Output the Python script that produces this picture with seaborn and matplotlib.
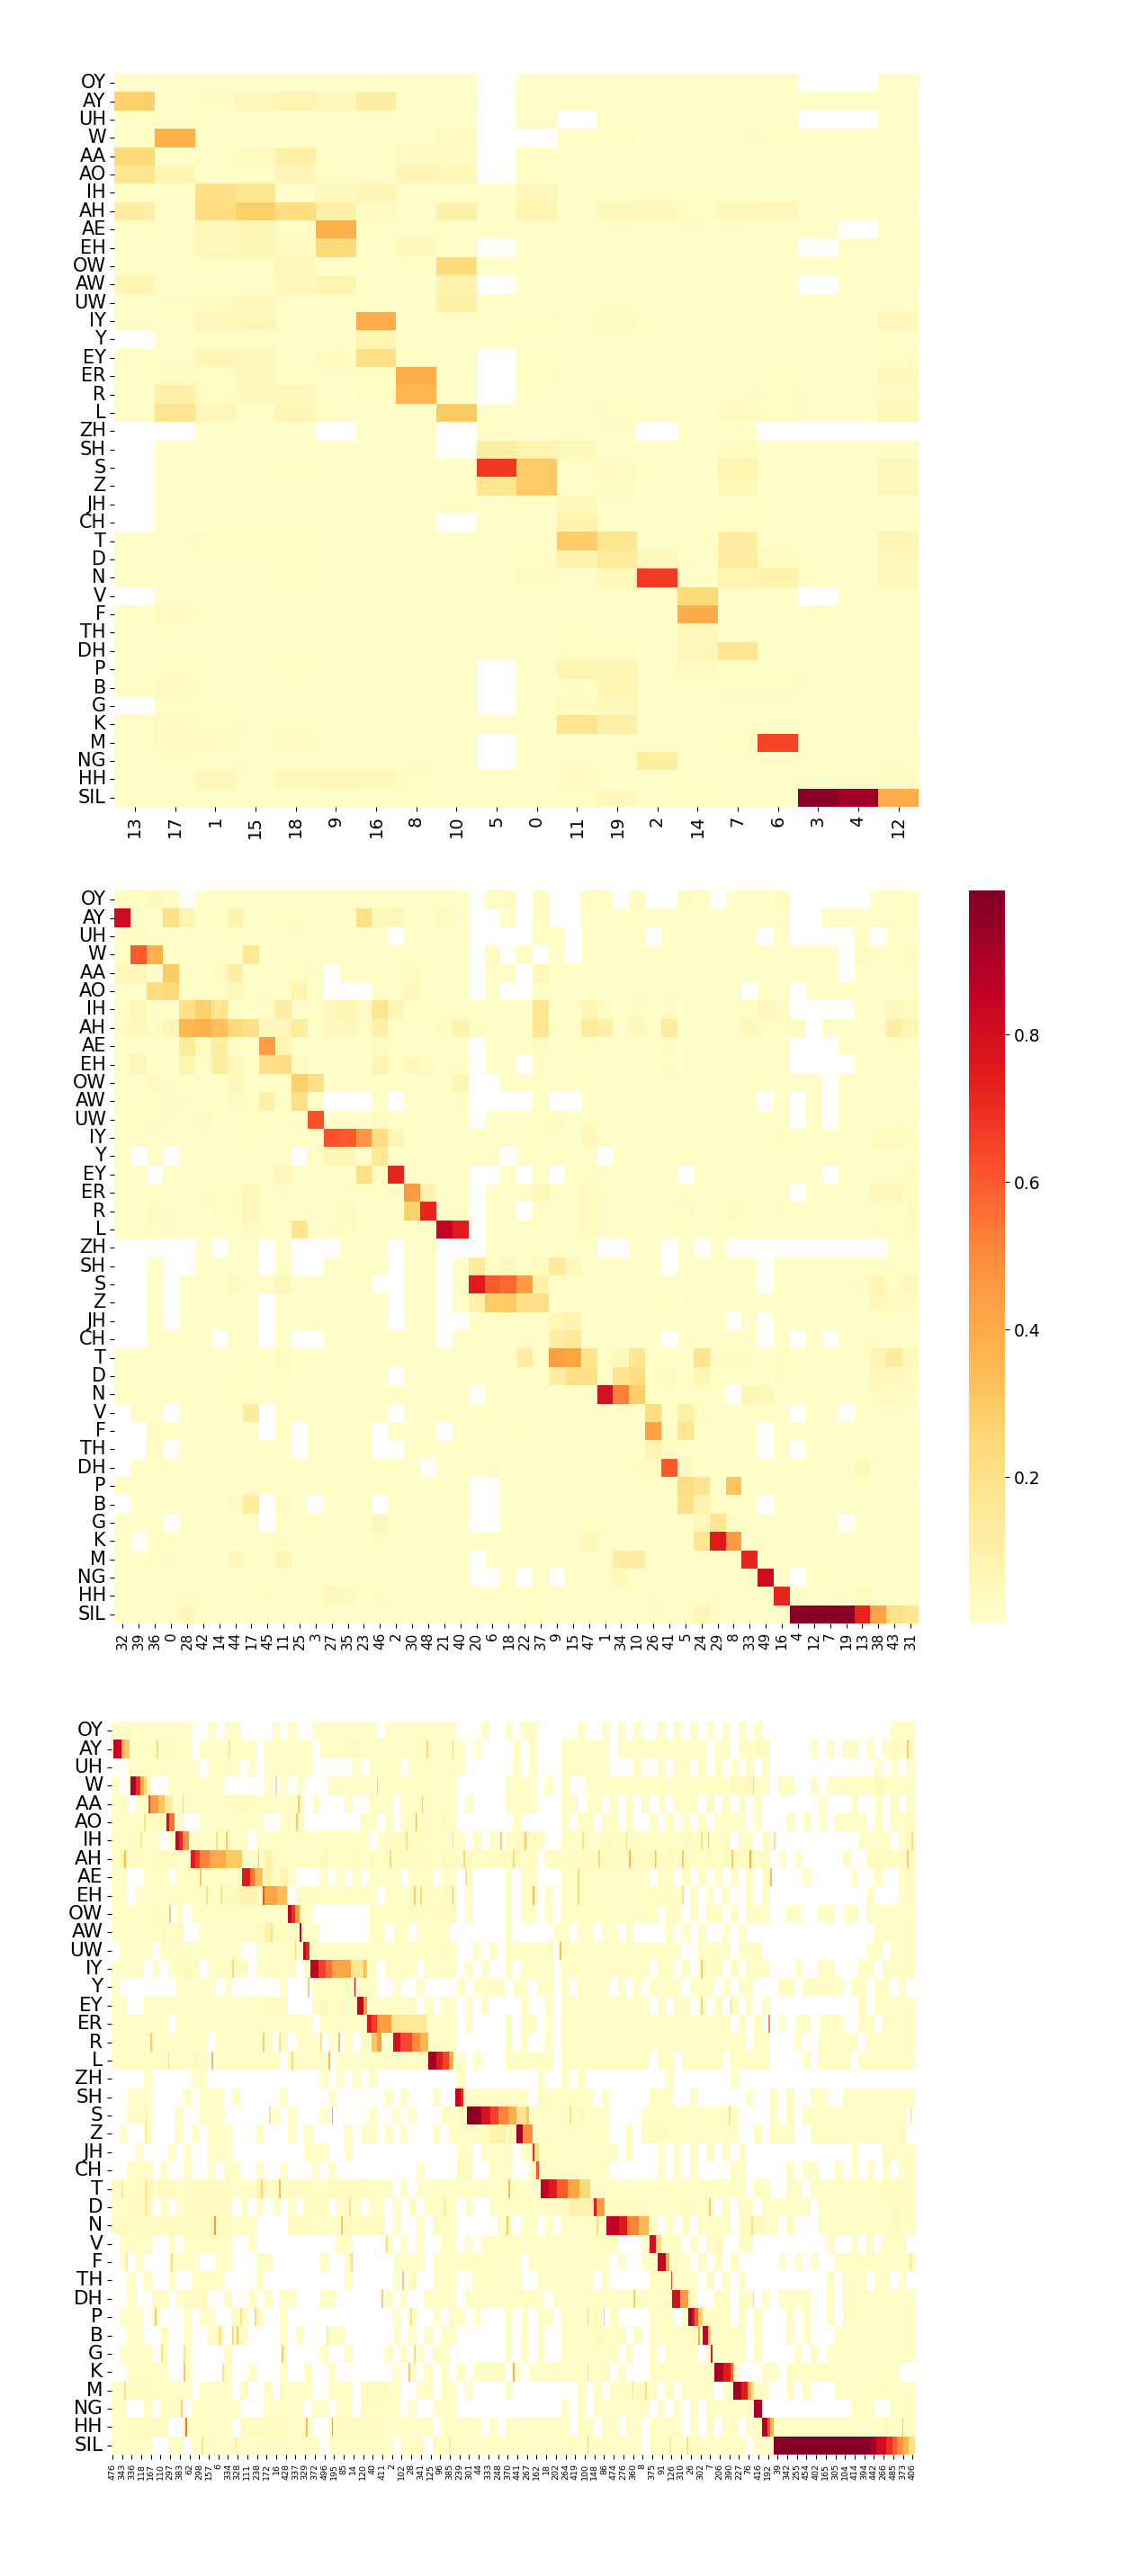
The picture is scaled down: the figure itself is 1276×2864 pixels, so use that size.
import numpy as np
import pandas as pd
import matplotlib
matplotlib.use("Agg")
import matplotlib.pyplot as plt
import seaborn as sns

phones = ["OY", "AY", "UH", "W", "AA", "AO", "IH", "AH", "AE", "EH", "OW", "AW", "UW", "IY", "Y", "EY", "ER", "R", "L", "ZH",
          "SH", "S", "Z", "JH", "CH", "T", "D", "N", "V", "F", "TH", "DH", "P", "B", "G", "K", "M", "NG", "HH", "SIL"]

# top panel, values in percent, . is an empty cell
top_cols = [13, 17, 1, 15, 18, 9, 16, 8, 10, 5, 0, 11, 19, 2, 14, 7, 6, 3, 4, 12]
top_rows = [
    "1 1 1 1 1 1 1 1 1 . 1 1 1 1 1 1 1 . . 1",
    "28 2 3 6 8 6 12 2 2 . 2 2 1 1 1 1 1 2 2 2",
    "1 2 1 1 1 1 1 1 1 . 2 . 1 1 1 1 1 . . 2",
    "2 38 1 1 1 1 1 2 4 . . 2 3 1 1 1 3 2 2 2",
    "24 2 2 4 10 2 1 4 3 . 2 1 1 1 1 1 1 1 1 1",
    "18 8 1 2 7 2 1 7 6 . 2 1 1 1 1 1 1 1 1 1",
    "1 2 20 17 1 5 7 2 2 1 6 1 2 3 2 2 2 1 1 1",
    "12 2 22 28 22 11 4 2 10 1 8 1 5 6 3 5 6 1 1 2",
    "2 1 5 7 2 38 2 1 2 1 1 1 1 1 1 1 1 1 . 1",
    "1 1 6 7 4 24 2 5 2 . 1 1 1 2 1 1 2 . 2 1",
    "2 1 2 2 6 1 1 1 23 2 2 1 2 1 1 1 2 1 1 1",
    "7 1 2 2 5 8 1 1 9 . 1 1 1 1 1 1 1 . 1 1",
    "2 3 4 5 2 1 1 1 11 2 1 1 2 1 1 1 1 1 1 2",
    "2 1 6 7 2 1 40 1 1 1 3 1 4 2 1 1 2 1 1 6",
    ". 1 2 2 2 1 8 1 1 1 1 1 1 1 1 1 1 1 1 1",
    "2 1 7 5 1 4 20 1 1 . 2 1 1 1 1 1 2 1 1 3",
    "2 3 2 5 2 1 2 40 1 . 3 1 1 1 1 1 2 1 1 5",
    "2 10 3 5 6 1 3 36 1 . 1 1 1 1 1 1 3 1 1 4",
    "2 18 6 2 7 2 1 1 30 1 1 1 3 2 1 4 3 1 1 5",
    ". . 1 1 1 . 1 1 . 1 1 1 1 . 1 1 . . . .",
    ". 1 1 1 2 1 2 1 . 12 8 5 1 1 1 4 1 1 1 2",
    ". 1 1 1 3 1 1 1 1 68 30 2 4 1 1 8 1 1 1 6",
    ". 1 1 1 1 1 1 1 1 17 30 2 3 1 1 5 1 1 1 6",
    ". 1 1 1 1 1 1 1 1 1 1 5 1 1 1 2 1 1 1 1",
    ". 1 1 1 1 1 1 1 . 1 1 9 1 1 1 2 1 1 1 1",
    "2 2 3 3 3 2 1 1 1 2 2 29 17 1 2 12 2 1 1 7",
    "2 2 2 2 2 2 1 1 1 1 3 9 14 6 1 13 4 1 1 6",
    "2 2 1 2 3 1 1 1 1 1 4 2 5 67 1 8 9 1 1 6",
    ". 2 1 1 1 1 1 1 1 1 1 1 2 1 24 1 1 . 1 1",
    "1 4 1 1 1 1 1 1 1 1 1 1 1 1 40 1 1 1 1 1",
    "1 1 1 1 1 1 1 1 1 2 2 2 1 1 5 1 1 1 1 1",
    "1 1 2 2 1 1 1 1 1 1 1 3 3 1 6 17 1 1 2 1",
    "2 3 2 2 3 2 1 1 1 . 1 8 7 1 4 1 1 1 1 1",
    "2 4 2 2 2 1 1 1 1 . 1 2 8 1 2 3 3 1 1 1",
    ". 2 2 2 1 1 1 1 1 . 2 4 5 1 1 1 1 1 1 1",
    "2 4 3 2 3 1 1 1 1 1 1 18 11 1 1 1 1 1 1 2",
    "2 4 4 2 4 1 1 1 1 . 1 1 1 2 1 3 65 1 1 1",
    "2 2 1 1 1 1 1 1 1 . 1 1 1 13 1 1 1 1 1 1",
    "2 2 6 1 5 6 5 3 1 1 1 4 1 1 1 2 1 1 1 3",
    "1 1 2 2 2 2 2 2 2 2 2 3 5 2 3 1 1 97 93 40",
]

# middle panel
mid_cols = [32, 39, 36, 0, 28, 42, 14, 44, 17, 45, 11, 25, 3, 27, 35, 23, 46, 2, 30, 48, 21, 40, 20, 6, 18,
            22, 37, 9, 15, 47, 1, 34, 10, 26, 41, 5, 24, 29, 8, 33, 49, 16, 4, 12, 7, 19, 13, 38, 43, 31]
mid_rows = [
    "3 3 5 3 . 1 1 1 1 1 1 1 1 1 1 2 1 1 1 1 1 1 . 3 3 . 3 . . 3 3 . 3 . . 3 3 . 1 1 1 3 . . . . . 2 2 2",
    "82 2 1 20 8 2 2 9 1 2 3 3 1 1 1 20 5 6 1 1 4 1 . . 1 . 3 . . 2 1 1 1 1 1 1 1 1 1 1 1 2 . . 2 2 2 2 3 2",
    "1 3 1 1 1 1 2 1 1 1 1 1 1 1 1 1 1 . 1 1 1 1 . . . . 2 2 . 1 1 1 1 . 1 1 1 1 1 1 . 1 . . . . 2 . 1 1",
    "1 60 38 1 1 1 1 1 16 1 1 1 2 1 1 1 1 1 1 1 1 1 . 3 . 3 . 1 . 1 1 2 1 1 1 1 1 1 1 1 1 1 1 1 1 . 4 1 1 3",
    "6 6 1 30 1 1 4 12 1 1 2 3 1 . 1 1 1 1 4 2 1 1 . 2 2 . 6 1 1 1 1 1 1 1 1 1 1 1 1 1 1 1 1 1 1 . 1 1 1 2",
    "1 1 22 24 1 1 1 6 1 1 1 8 1 . . . 1 1 5 1 1 1 . 1 . . 2 1 1 1 1 1 1 1 1 1 1 1 1 . 2 1 . 1 1 1 1 1 1 2",
    "2 6 1 1 20 28 18 2 1 3 12 2 1 6 8 4 18 7 2 3 2 2 1 1 1 1 18 1 2 7 3 1 3 2 3 1 1 1 1 3 6 3 . . . . 2 1 6 4",
    "3 5 3 7 36 38 33 24 20 5 5 14 1 5 6 2 10 2 2 2 4 9 3 1 1 1 17 2 2 14 11 1 5 2 14 1 2 1 2 5 3 3 4 . 1 1 1 2 12 8",
    "1 1 1 1 14 4 12 2 1 45 7 1 1 1 1 1 4 2 1 1 1 1 . 1 1 1 4 1 1 2 1 1 1 1 3 1 1 1 1 1 1 1 . . . 1 1 1 2 2",
    "1 6 1 1 8 2 13 5 1 20 22 4 1 1 1 1 8 2 5 4 1 1 . 1 1 . 3 1 1 1 1 1 1 1 3 1 1 1 1 1 1 1 . . . . 1 1 1 1",
    "1 2 4 1 1 1 1 6 1 1 1 28 20 1 1 1 1 1 1 1 1 7 . . 1 1 1 1 1 1 1 1 1 1 1 1 1 1 1 1 1 2 1 1 . 1 1 1 1 2",
    "1 1 1 3 1 1 1 4 2 10 2 20 1 . . . 1 . 1 1 1 3 . . . . 2 . . 1 1 1 1 1 1 1 1 1 1 1 . 1 . 1 . 1 1 1 1 1",
    "1 3 3 1 1 4 1 1 3 1 1 1 62 1 1 1 4 2 1 1 1 1 . 1 1 1 3 3 1 3 1 1 1 1 1 1 1 1 1 1 1 1 . 1 . 1 1 1 1 1",
    "1 1 1 1 1 1 1 1 3 1 1 1 1 62 60 47 22 7 1 1 1 1 1 1 1 1 3 1 1 6 1 1 1 1 1 2 2 1 1 1 1 3 1 1 1 1 1 4 4 3",
    "1 . 1 . 1 1 1 1 1 1 1 . 2 7 7 2 16 1 1 1 1 1 1 1 . 1 1 1 1 1 . 1 1 1 1 1 1 1 1 1 1 1 1 1 1 1 1 1 1 1",
    "1 1 . 1 1 1 1 1 1 2 6 1 1 2 1 20 3 72 1 1 1 1 . . 1 . 2 . 1 3 1 1 1 1 1 . 1 1 1 1 1 1 1 1 . 1 1 2 2 3",
    "1 1 1 1 1 3 3 2 5 1 1 1 1 1 1 1 1 1 45 9 1 1 . 1 1 1 6 2 1 4 2 1 1 1 1 1 1 1 1 1 1 1 . 1 1 1 1 5 5 3",
    "1 1 4 1 1 1 3 2 6 1 1 1 1 2 4 1 1 2 28 72 1 1 . 1 1 . 3 1 1 4 1 1 1 1 1 3 1 1 4 1 1 3 1 1 1 1 1 2 3 3",
    "1 1 3 1 1 1 1 2 4 1 1 18 1 1 3 1 1 1 1 1 85 75 . 1 1 1 3 1 1 4 1 1 1 1 1 1 1 1 1 1 1 1 1 1 1 1 1 3 3 3",
    ". . . . . 1 . 1 1 . 1 . . . 1 1 1 . 1 1 . . . 1 1 1 1 1 1 1 . . 1 1 . 1 . 1 . . . . . . . . . . 1 1",
    ". . 1 . . 1 1 1 1 . 1 . . 1 1 1 1 . 1 1 . 1 14 2 5 2 4 14 5 1 1 1 1 1 . 1 1 1 1 1 . 1 1 1 1 1 1 1 1 1",
    ". . 1 . 1 1 1 4 2 2 6 1 1 1 1 1 . . 1 1 . 1 75 60 57 45 10 1 1 1 1 1 1 1 1 1 1 1 1 1 . 1 1 1 1 1 3 7 2 6",
    ". . 1 . 1 1 1 1 1 . 1 1 1 1 1 1 1 . 1 1 . 1 10 30 30 20 20 1 1 1 1 1 2 1 3 1 1 1 1 1 1 1 1 1 1 1 1 5 4 3",
    ". . 1 . 1 1 1 1 1 . 1 1 1 1 1 1 1 . 1 1 . . 1 1 1 1 1 6 8 1 1 1 1 1 1 1 1 1 . 1 . 1 1 1 1 1 1 1 1 1",
    ". . 1 1 1 1 . 1 1 . 1 . . 1 1 1 1 1 1 1 . 1 1 1 1 3 1 12 16 1 1 1 1 1 . 1 1 1 1 1 . 1 . 1 . 1 1 1 1 1",
    "1 1 1 1 1 1 1 2 2 1 4 1 1 1 1 1 1 1 1 1 1 2 2 2 2 12 1 45 42 18 2 5 17 1 1 1 18 1 4 1 1 3 1 1 1 1 2 7 14 5",
    "1 1 1 1 1 1 1 2 3 1 3 1 1 1 1 1 1 . 1 1 1 1 1 1 1 2 2 12 20 20 2 18 22 1 4 1 8 1 1 1 1 3 1 1 1 1 1 6 6 3",
    "1 1 1 1 1 1 2 3 1 1 1 1 1 1 1 1 1 1 1 1 1 1 . 1 1 1 1 1 1 1 80 52 28 2 2 1 1 1 . 7 5 1 1 1 1 1 1 4 4 3",
    ". 2 1 . 1 1 1 1 14 . 1 1 1 1 1 1 1 . 1 1 1 1 1 1 1 1 1 1 1 1 1 1 1 22 1 11 3 1 1 1 1 1 . 1 1 . 1 1 1 1",
    ". . 3 1 1 1 1 1 1 . 2 . 1 1 1 1 . 1 1 1 . 1 1 1 1 3 1 1 1 1 1 1 1 43 1 17 1 1 1 1 . 1 1 1 1 1 1 1 1 1",
    ". . 2 . 1 1 1 1 1 1 1 . 1 1 1 1 . . 1 1 1 1 1 1 1 1 1 1 1 1 1 1 1 8 4 1 1 1 1 1 . 1 . 1 1 1 1 1 1 1",
    ". 1 1 1 1 1 1 1 1 1 1 1 1 1 1 1 1 1 1 . 1 1 1 3 1 2 1 1 2 2 1 1 3 4 60 3 1 1 1 1 1 1 1 1 1 1 6 1 1 1",
    "2 2 1 1 1 1 1 1 1 1 2 1 1 1 1 1 1 1 1 1 1 1 . . 1 1 1 1 1 1 1 1 1 1 1 22 18 1 32 1 1 1 1 1 1 1 1 1 1 2",
    ". 1 1 1 1 1 1 3 13 . 3 1 . 1 2 1 . 1 1 1 1 1 . . 1 1 1 1 1 1 1 1 1 1 1 20 8 1 1 1 . 1 1 1 1 1 1 1 1 1",
    "1 1 1 . 1 1 1 1 2 . 1 1 1 1 1 1 6 1 1 1 1 1 . . 1 1 1 1 1 2 1 1 1 1 1 1 5 17 3 1 2 1 1 1 1 . 1 1 1 1",
    "1 . 1 1 1 1 1 1 1 1 1 1 1 1 1 1 3 1 1 1 1 1 1 1 2 2 1 1 1 5 1 1 1 1 1 1 17 75 45 1 1 1 1 1 1 1 1 1 1 1",
    "1 1 3 1 1 1 1 5 1 1 7 1 1 1 1 1 1 1 1 1 1 1 . 1 1 1 1 1 1 1 2 12 12 1 1 1 1 1 1 72 1 1 1 1 1 1 1 1 1 1",
    "1 1 1 1 1 1 1 1 1 1 1 1 1 1 1 2 2 1 1 1 1 1 . . 1 . 1 . 1 1 1 5 1 1 1 1 1 1 1 1 82 1 . 1 1 1 1 1 1 1",
    "1 1 1 1 1 1 1 1 1 3 1 1 1 5 4 1 3 1 1 1 1 1 1 1 1 1 1 2 1 1 1 1 1 1 1 1 1 1 1 1 1 72 1 1 1 1 4 1 1 1",
    "1 1 1 1 6 1 1 1 1 1 1 1 1 1 1 1 1 1 1 1 1 1 1 1 1 2 2 1 1 1 1 1 1 3 1 1 7 1 1 1 1 1 97 98 98 97 72 42 20 16",
]

# bottom panel, 500 columns; only every sixth label can be read
bot_ticks = [476, 343, 336, 118, 167, 110, 297, 383, 62, 298, 157, 6, 334, 328, 111, 238, 172, 16, 428, 337,
             329, 372, 496, 195, 85, 14, 120, 40, 411, 2, 102, 28, 341, 125, 96, 385, 239, 301, 44, 333,
             248, 370, 441, 267, 162, 18, 202, 264, 419, 100, 148, 86, 474, 276, 360, 8, 375, 91, 126, 310,
             26, 302, 7, 206, 390, 227, 76, 416, 192, 39, 342, 255, 454, 402, 165, 305, 104, 414, 394, 442,
             266, 485, 373, 406]

# faint background of the bottom panel, one letter per 5 columns
bot_levels = {".": np.nan, "0": 0.006, "1": 0.02, "2": 0.04, "3": 0.09}
bot_left = [
    "0101010100..1.00....0.0..00000000.", "0001112211.1111111.111111.11122111", "..001010100.1110.0.010101.....0.11",
    "0.000..1101010.....0.0.0...01010102", "12.000001111111221111111.0...0..11", "101012200..01111010..111.......11",
    "111110.0.00112201.11111111111111.0", "1312122210000000011321111121112121", "11..111.111111110003230...0.0.1.01",
    "11.0111111111122330000.1111111111", "1111121.0.011111101010001.......11", "111101212..111111123221010......11",
    ".1111.1111111111..0111100111111111", "1001.0.0221.11112.01111.0.0000000", "0.......01010.0......0...11111000..",
    "11..101011111111111222...121211100", "1101111.11111111011111110.1010100", "101011101011.1111111.1.010.0.1.100",
    "111111111120.11111111.10101.100011", "....0.....00..............0.0.0.0.", "..010....0.111.0.....0.....0......",
    "..111...1..111......1.1...1.....1.", ".1..1...1.1.111...1...1.1....1.11.", "...0...0.0..111.........111..0....",
    "..111.0..0..0.11..0..0...1.1......", "2112212212222221113111222112222211", "10222.1.0222222.0.1.1.0.222.111.01",
    "221222222222222111....222110121222", ".1111..1.111111..1..........11....", ".1.1...1110..11...11......1..2....",
    "..1.1..1..1111....1..........1....", "..1..11.1222..1..1.1.11...11......", ".111.1...1.11..11.1..1............",
    "..11..1..1..11.11....1.1...11.....", ".1111.1..1....1......1....1..1....", "..11111..1....1..1...1..1..1......",
    "1122211111.1111.2..1.1111..111.222", "10..1.111.111111...10101.11.11.111", "1122222..111111.222222111..2222222",
    "11111..11.1111111101011111.1111111",
]
bot_mid = [
    "010111010...0..0.11.....0..0.0.0.", "1111211120.0....1.1...111110.1111", "11.1111110......1.0...111111...1.",
    "101011111......0110.0.1..01111111", "0.0112111.0....0101...11.01.1.1.1", "1.0112121.......1.....0.11.11.1..",
    "2221211110.1.1.12221..11111211121", "2222121221211122212.1212222222222", "01.111.01.0....0.10...11111011111",
    "111112122.0....0.12.0.11111111111", "111211222.0....0.10.0.11111111011", ".01.1101.......0.....00.00.00.0.",
    "111111121..0.0.111111.21111111111", "1010.1011.0.0..1.1111.11111111111", ".0..1....0.0000.01.01.0.0110.0.0.",
    "0101.1.01.0.0....1..0.11111110111", "000000111.0....1.11.0.11111111111", "000000011......0.1..0.11111111111",
    "1111110000.0...111111.11111111111", ".........1.........1..0.0........", "0.0...0..001111110.2111111.0.....",
    ".0.0...001100000000111112110....0", "0.0...1.10112332230011111111..0.1", ".........11.0010.111111111111.1.",
    "....0....22..100..1011111111.....", "1.1.10111111111110000000000000000", ".0.1.1111.1..11111111223330022222",
    ".0..1.111.....10.00.0.01111100000", "1.0.0..11.0.11111011111111111...0", ".0101.01111111111.1111111111.0..0.",
    ".0.2..011..111111..0101111.1.....", "1.0..1110.1111111110.111111111111", ".0.1..0.10.0...0.0.11.01012.1....",
    ".1.0.1.01......0.0.1..11112101.0.", "1.1.1.11.......0.1.1..1111111.0..", ".0.1.1.0.1.1111.1.1111111112.0....",
    "11..11.11.0....1........1.1.1122222", "11.0..011.............0.0.1111111", "011101.01010.0.10110111.11.11.01.",
    "1.111.21111011111111111211111111",
]
bot_right = [
    ".1.1.1.0.0.1.1................111", "0110111.01.1122.....0.0.11.0.1212", ".1.11.1.1.0.1.1.............0.0.0",
    "110111111122211.11..1.11111121111", ".0.011.1.1.1.0.......0...0..0.1.0", "0.1.0.1.0110.0...0.0.0.1111.0.111",
    "0111211112.11.2...........0101.12", "212121121222212.0.0.....1..2222223", ".11.1.1.0.1.1.2....0.....0..1..11",
    "1121.1.0.1..1.1............0...01", "1.11.0.11.1.111..10..10.01.111111", "..1.0.0..0.0................11011",
    "1111..1111.111.............01.111", ".11.1.112.1.111...0..10...11.1111", "1010.011.0.11...11.11111.11.10.0.",
    ".1.11.0.1.1.1.1...........1.11111", "1111010111.1.2..0.00.011..11.1111", "011101111111.11...0..11111.111111",
    ".11.11111.11111....0.1111.1111111", "..0.......0......................", "111..0......0..0.1..11..111111111",
    "11111011111....0.1.1111111111111", "22111011011..1.111..111111111112", ".0.0.1.1.1.1.............0...1111",
    ".0.1.1....11.....0.11..1.1.0.1.11", "111111111111.11..11.1111111112221", "11112111.1.11.101101.111111111211",
    "0.1.1.1111.22210.1...011111111211", "0111.1.12..11.........1..1.1.111", "00011.1.1.1.....0.0.0..1111111112",
    "110111.1.1.1..........1.111.11.0", "111000..11.11.1.0101..1.111111111", "011.000111.1.1...0.0..1.111111111",
    "111112000111.0...0.0...1111111111", "1.1111.00111.1....0.1.11111111111", "01111110000...11.11111111111111",
    "1.1.1110.000011..1.1...1111111111", ".0.1.0.1111100...........111..111", "1111.1.1.11.100111111111111112121",
    "111111111111.11000000000000000000",
]

# strong runs in the bottom panel: row, first col, end col, value
bot_bands = [
    (1, 1, 6, .85), (1, 6, 8, .4), (1, 8, 11, .3),
    (3, 12, 15, .9), (3, 15, 18, .7), (3, 18, 20, .4), (3, 20, 22, .25),
    (4, 23, 24, .65), (4, 24, 29, .45), (4, 29, 33, .32), (4, 33, 38, .14),
    (5, 34, 36, .82), (5, 36, 39, .55),
    (6, 40, 42, .85), (6, 42, 44, .72), (6, 44, 48, .47),
    (7, 49, 52, .75), (7, 52, 55, .66), (7, 55, 61, .52), (7, 61, 71, .4), (7, 71, 81, .3),
    (8, 81, 86, .75), (8, 86, 89, .55), (8, 89, 94, .34),
    (9, 94, 95, .62), (9, 95, 103, .42), (9, 103, 109, .34),
    (10, 110, 112, .85), (10, 112, 114, .7), (10, 114, 117, .45),
    (11, 117, 118, .85),
    (12, 119, 121, .85), (12, 121, 123, .72),
    (13, 124, 129, .86), (13, 129, 133, .66), (13, 133, 137, .55), (13, 137, 149, .42), (13, 149, 157, .17), (13, 157, 158, .35),
    (14, 151, 152, .85),
    (15, 153, 157, .85), (15, 157, 159, .45),
    (16, 159, 162, .78), (16, 162, 165, .66), (16, 165, 174, .45), (16, 174, 196, .16),
    (17, 162, 165, .32), (17, 165, 168, .45), (17, 175, 180, .8), (17, 180, 187, .64), (17, 187, 192, .5), (17, 192, 197, .36),
    (18, 197, 202, .92), (18, 202, 206, .75), (18, 206, 210, .65), (18, 210, 213, .38),
    (20, 214, 217, .85), (20, 217, 219, .72),
    (21, 221, 230, .96), (21, 230, 236, .78), (21, 236, 241, .66), (21, 241, 247, .52), (21, 247, 252, .4), (21, 252, 258, .18), (21, 258, 260, .32),
    (22, 252, 256, .92), (22, 256, 262, .5),
    (23, 262, 263, .7), (23, 263, 266, .2),
    (24, 264, 266, .62),
    (25, 267, 272, .85), (25, 272, 277, .75), (25, 277, 284, .6), (25, 284, 291, .42), (25, 291, 298, .24),
    (26, 300, 302, .75), (26, 302, 307, .45),
    (27, 308, 316, .86), (27, 316, 321, .76), (27, 321, 328, .52), (27, 328, 334, .36),
    (28, 335, 339, .8), (28, 339, 342, .2),
    (29, 340, 345, .85), (29, 345, 347, .4),
    (30, 348, 349, .62),
    (31, 349, 354, .8), (31, 354, 359, .45),
    (32, 359, 361, .92), (32, 361, 363, .8), (32, 363, 365, .6), (32, 365, 368, .28),
    (33, 365, 366, .4), (33, 368, 371, .85), (33, 371, 373, .3),
    (34, 373, 374, .75),
    (35, 375, 381, .9), (35, 381, 385, .75), (35, 385, 387, .58),
    (36, 387, 392, .92), (36, 392, 396, .75), (36, 396, 398, .38), (36, 398, 400, .2),
    (37, 400, 405, .9),
    (38, 405, 408, .88), (38, 408, 410, .62), (38, 410, 412, .38),
    (39, 412, 472, .98), (39, 472, 476, .92), (39, 476, 482, .82), (39, 482, 486, .7), (39, 486, 489, .6),
    (39, 489, 493, .48), (39, 493, 496, .36), (39, 496, 500, .2),
]

# single dark stripes in the bottom panel: row, col, value
bot_stripes = [
    (1, 28, .25), (1, 73, .15), (1, 196, .25), (1, 212, .25), (1, 495, .3), (3, 102, .2), (3, 165, .25), (3, 399, .25),
    (4, 44, .25), (4, 116, .3), (4, 193, .3), (5, 20, .2), (5, 115, .3), (5, 189, .35), (6, 18, .15), (6, 65, .2), (6, 71, .3),
    (6, 183, .2), (6, 212, .2), (6, 242, .3), (6, 257, .3), (6, 293, .2), (6, 320, .2), (6, 367, .2), (6, 371, .3), (6, 412, .2), (6, 498, .2),
    (7, 8, .35), (7, 91, .3), (7, 173, .25), (7, 219, .25), (7, 250, .25), (7, 303, .25), (7, 322, .35), (7, 338, .35),
    (7, 355, .3), (7, 386, .3), (7, 397, .4), (7, 495, .3), (8, 55, .3), (8, 220, .2), (8, 290, .25), (8, 410, .35),
    (9, 59, .2), (9, 68, .2), (9, 188, .3), (9, 192, .25), (9, 212, .35), (9, 262, .35), (9, 290, .25), (9, 355, .2),
    (10, 36, .3), (11, 99, .2), (12, 114, .25), (12, 279, .35), (13, 75, .25), (13, 158, .3), (13, 367, .3),
    (14, 122, .3), (15, 367, .25), (15, 385, .2), (16, 409, .5), (17, 24, .3), (17, 94, .3), (17, 104, .2), (17, 130, .2), (17, 141, .35),
    (18, 35, .2), (18, 62, .35), (18, 112, .25), (18, 135, .35), (21, 21, .12), (21, 98, .2), (21, 137, .4), (21, 285, .2), (21, 384, .2), (21, 497, .2),
    (22, 21, .2), (25, 6, .15), (25, 21, .25), (25, 93, .25), (25, 104, .35), (25, 247, .35), (26, 21, .25), (26, 148, .2), (26, 207, .2), (26, 372, .3),
    (27, 64, .45), (27, 143, .3), (27, 246, .3), (27, 302, .25), (27, 398, .2), (28, 171, .2), (29, 9, .15), (29, 37, .25), (29, 149, .25), (29, 497, .2),
    (30, 181, .3), (31, 168, .3), (31, 325, .3), (31, 399, .2), (32, 27, .3), (32, 80, .2), (32, 89, .25), (32, 186, .2), (32, 296, .25), (32, 306, .3),
    (33, 67, .3), (33, 75, .25), (33, 78, .3), (33, 134, .15), (34, 31, .2), (34, 45, .2), (34, 106, .3), (34, 188, .25),
    (35, 45, .3), (35, 69, .2), (35, 185, .3), (35, 250, .4), (35, 296, .2), (36, 8, .2), (36, 105, .15), (36, 324, .2), (36, 332, .2),
    (37, 43, .25), (38, 46, .55), (38, 121, .35), (38, 137, .45), (38, 492, .3), (39, 56, .2), (39, 77, .15), (39, 210, .15), (39, 296, .3), (39, 347, .15), (39, 358, .2),
]


def parse_rows(rows, n):
    out = []
    for r in rows:
        vals = [np.nan if v == "." else float(v) / 100 for v in r.split()]
        vals = (vals + [0.01] * n)[:n]
        out.append(vals)
    return np.array(out)


top = pd.DataFrame(parse_rows(top_rows, 20), index=phones, columns=top_cols)
mid = pd.DataFrame(parse_rows(mid_rows, 50), index=phones, columns=mid_cols)

bot = np.zeros((40, 500))
for i in range(40):
    s = bot_left[i].ljust(34, ".")[:34] + bot_mid[i].ljust(33, ".")[:33] + bot_right[i].ljust(33, ".")[:33]
    bot[i] = np.repeat([bot_levels[c] for c in s], 5)
for r, a, b, v in bot_bands:
    bot[r, a:b] = v
for r, c, v in bot_stripes:
    bot[r, c] = v
bot = pd.DataFrame(bot, index=phones)

W, H = 1276, 2864


def box(x0, x1, y0, y1):
    return [x0 / W, 1 - y1 / H, (x1 - x0) / W, (y1 - y0) / H]


fig = plt.figure(figsize=(W / 100, H / 100), dpi=100)
ax1 = fig.add_axes(box(127.5, 1021, 82, 897))
ax2 = fig.add_axes(box(127.5, 1021, 990, 1805))
ax3 = fig.add_axes(box(124, 1017, 1914, 2729))
cax = fig.add_axes(box(1077, 1117, 990, 1805))

opts = dict(cmap="YlOrRd", vmin=0.002, vmax=0.995, yticklabels=phones)
sns.heatmap(top, ax=ax1, cbar=False, xticklabels=top_cols, **opts)
sns.heatmap(mid, ax=ax2, cbar=True, cbar_ax=cax, xticklabels=mid_cols, **opts)
sns.heatmap(bot, ax=ax3, cbar=False, xticklabels=False, **opts)

ax3.set_xticks(np.arange(len(bot_ticks)) * 6 + 0.5)
ax3.set_xticklabels(bot_ticks, rotation=90, fontsize=6.8)

ax1.tick_params(axis="x", labelsize=14, labelrotation=90)
ax2.tick_params(axis="x", labelsize=11, labelrotation=90)
for ax in [ax1, ax2]:
    ax.tick_params(axis="y", labelsize=15, labelrotation=0)
ax3.tick_params(axis="y", labelsize=15.5, labelrotation=0)
for ax in [ax1, ax2, ax3]:
    ax.set_xlabel("")
    ax.set_ylabel("")
cax.tick_params(labelsize=13.5)

fig.savefig("out.png", dpi=100)
